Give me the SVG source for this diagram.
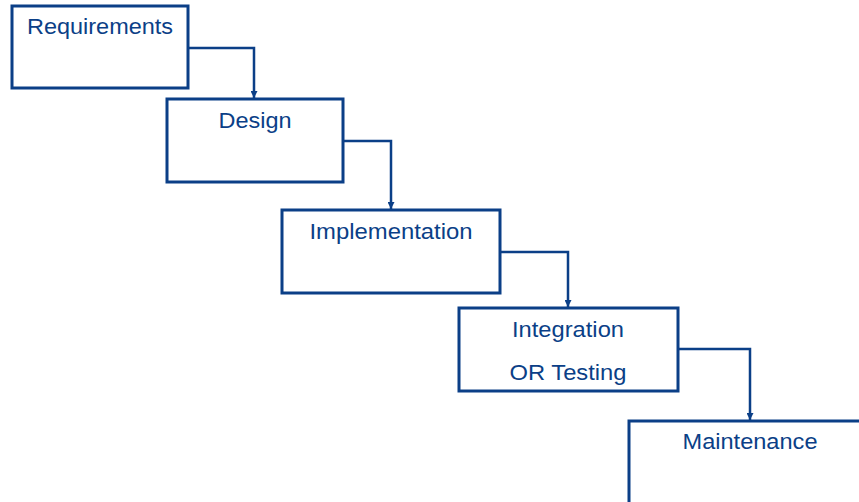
<svg xmlns="http://www.w3.org/2000/svg" width="859" height="502" viewBox="0 0 859 502">
  <defs>
    <marker id="arrow" viewBox="0 0 10 10" refX="10" refY="5" markerWidth="7" markerHeight="7" markerUnits="userSpaceOnUse" orient="auto">
      <path d="M0,0 L10,5 L0,10 Z" fill="#0b3f87"/>
    </marker>
    <style>
      .box { fill: #ffffff; stroke: #0b3f87; stroke-width: 3; }
      .label { font-family: "Liberation Sans", Arial, sans-serif; font-size: 22px; fill: #0b3f87; text-anchor: middle; }
      .link { fill: none; stroke: #0b3f87; stroke-width: 2.5; marker-end: url(#arrow); }
    </style>
  </defs>
  <rect width="859" height="502" fill="#ffffff"/>

  <g id="requirements">
    <rect class="box" x="12" y="6" width="176" height="82"/>
    <text class="label" x="100" y="34" textLength="146" lengthAdjust="spacingAndGlyphs">Requirements</text>
  </g>

  <g id="design">
    <rect class="box" x="167" y="99" width="176" height="83"/>
    <text class="label" x="255" y="128" textLength="73" lengthAdjust="spacingAndGlyphs">Design</text>
  </g>

  <g id="implementation">
    <rect class="box" x="282" y="210" width="218" height="83"/>
    <text class="label" x="391" y="239" textLength="163" lengthAdjust="spacingAndGlyphs">Implementation</text>
  </g>

  <g id="integration">
    <rect class="box" x="459" y="308" width="219" height="83"/>
    <text class="label" x="568" y="337" textLength="112" lengthAdjust="spacingAndGlyphs">Integration</text>
    <text class="label" x="568" y="380" textLength="117" lengthAdjust="spacingAndGlyphs">OR Testing</text>
  </g>

  <g id="maintenance">
    <rect class="box" x="629" y="421" width="300" height="200"/>
    <text class="label" x="750" y="449" textLength="135" lengthAdjust="spacingAndGlyphs">Maintenance</text>
  </g>

  <g id="connectors">
    <polyline class="link" points="188,48 254,48 254,98"/>
    <polyline class="link" points="343,141 391,141 391,209"/>
    <polyline class="link" points="500,252 568,252 568,307"/>
    <polyline class="link" points="678,349 750,349 750,420"/>
  </g>
</svg>
